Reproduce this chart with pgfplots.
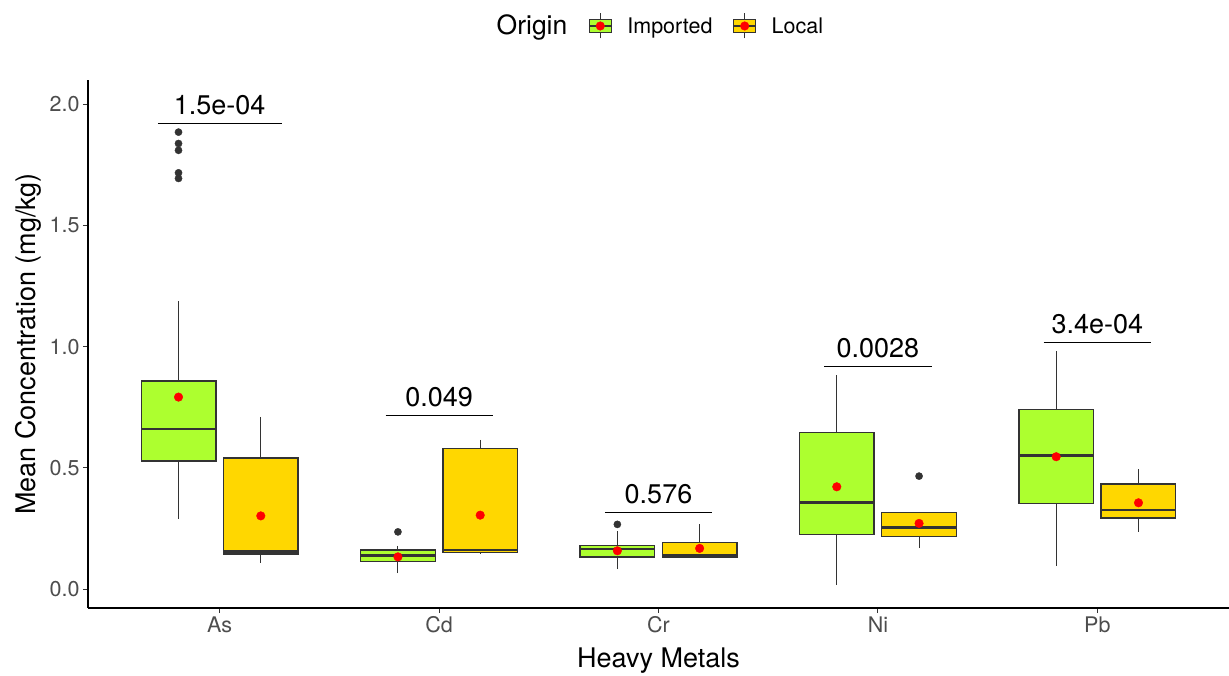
\documentclass[border=0pt]{standalone}
\usepackage{pgfplots}
\pgfplotsset{compat=1.18}
\usepgfplotslibrary{statistics}
\usepackage{fontspec}
\setmainfont{TeX Gyre Heros}
\definecolor{impcol}{HTML}{ADFF2F}
\definecolor{loccol}{HTML}{FFD700}
\definecolor{grey20}{HTML}{333333}
\definecolor{grey30}{HTML}{4D4D4D}
\pgfplotsset{
  bx/.style={boxplot/draw direction=y, boxplot/box extend=0.34, boxplot/whisker extend=0,
    draw=grey20, line width=1.4pt,
    boxplot/every box/.style={line width=1.4pt, draw=grey20},
    boxplot/every median/.style={line width=2.8pt, draw=grey20},
    boxplot/every whisker/.style={line width=1.1pt, draw=grey20},
    forget plot},
  imp/.style={bx, fill=impcol},
  loc/.style={bx, fill=loccol},
}
\begin{document}
\begin{tikzpicture}
\useasboundingbox (-88pt,-67pt) rectangle (1141pt,608pt);
\begin{axis}[
  scale only axis, width=1141pt, height=528pt,
  xmin=0.4, xmax=5.6, ymin=-0.078, ymax=2.1,
  axis lines*=left,
  axis line style={black, line width=1.2pt},
  xtick={1,2,3,4,5}, xticklabels={As,Cd,Cr,Ni,Pb},
  ytick={0,0.5,1,1.5,2}, yticklabels={0.0,0.5,1.0,1.5,2.0},
  tick align=outside, major tick length=5pt,
  tick style={grey20, line width=1.1pt},
  ticklabel style={font=\fontsize{21.5}{24}\selectfont, text=grey30},
  /pgf/number format/assume math mode=true,
  xlabel={Heavy Metals}, ylabel={Mean Concentration (mg/kg)},
  label style={font=\fontsize{27}{32}\selectfont},
  xlabel style={at={(axis description cs:0.5,-0.1136)}, anchor=base},
  ylabel style={at={(axis description cs:-0.04645,0.5)}, anchor=base},
  clip=false,
  legend columns=2,
  legend cell align=left,
  legend style={at={(axis description cs:0.4382,1.1023)}, anchor=west, draw=none, fill=none,
    inner sep=0pt, font=\fontsize{21.5}{24}\selectfont,
    /tikz/every even column/.append style={column sep=18pt}},
]
% Imported (x - 0.1875), Local (x + 0.1875)
\addplot[imp, boxplot prepared={draw position=0.8125, lower whisker=0.289, lower quartile=0.529, median=0.66, upper quartile=0.858, upper whisker=1.188}] coordinates {};
\addplot[loc, boxplot prepared={draw position=1.1875, lower whisker=0.108, lower quartile=0.145, median=0.155, upper quartile=0.541, upper whisker=0.711}] coordinates {};
\addplot[imp, boxplot prepared={draw position=1.8125, lower whisker=0.065, lower quartile=0.113, median=0.137, upper quartile=0.161, upper whisker=0.179}] coordinates {};
\addplot[loc, boxplot prepared={draw position=2.1875, lower whisker=0.144, lower quartile=0.151, median=0.161, upper quartile=0.58, upper whisker=0.617}] coordinates {};
\addplot[imp, boxplot prepared={draw position=2.8125, lower whisker=0.081, lower quartile=0.133, median=0.165, upper quartile=0.179, upper whisker=0.239}] coordinates {};
\addplot[loc, boxplot prepared={draw position=3.1875, lower whisker=0.127, lower quartile=0.131, median=0.14, upper quartile=0.193, upper whisker=0.267}] coordinates {};
\addplot[imp, boxplot prepared={draw position=3.8125, lower whisker=0.016, lower quartile=0.224, median=0.356, upper quartile=0.645, upper whisker=0.882}] coordinates {};
\addplot[loc, boxplot prepared={draw position=4.1875, lower whisker=0.168, lower quartile=0.216, median=0.254, upper quartile=0.315, upper whisker=0.319}] coordinates {};
\addplot[imp, boxplot prepared={draw position=4.8125, lower whisker=0.095, lower quartile=0.352, median=0.55, upper quartile=0.741, upper whisker=0.983}] coordinates {};
\addplot[loc, boxplot prepared={draw position=5.1875, lower whisker=0.236, lower quartile=0.293, median=0.326, upper quartile=0.434, upper whisker=0.494}] coordinates {};
% outliers
\addplot[only marks, mark=*, mark size=3.6pt, mark options={draw=grey20, fill=grey20}, forget plot] coordinates {
 (0.8125,1.885) (0.8125,1.838) (0.8125,1.81) (0.8125,1.717) (0.8125,1.694)
 (1.8125,0.236) (2.8125,0.267) (4.1875,0.466)};
% means
\addplot[only marks, mark=*, mark size=4.3pt, mark options={draw=red, fill=red}, forget plot] coordinates {
 (0.8125,0.792) (1.1875,0.302) (1.8125,0.133) (2.1875,0.305) (2.8125,0.158) (3.1875,0.168)
 (3.8125,0.422) (4.1875,0.271) (4.8125,0.546) (5.1875,0.356)};
% brackets
\addplot[black, line width=0.9pt, forget plot] coordinates {(0.718,1.919) (1.282,1.919)};
\addplot[black, line width=0.9pt, forget plot] coordinates {(1.756,0.718) (2.244,0.718)};
\addplot[black, line width=0.9pt, forget plot] coordinates {(2.756,0.316) (3.244,0.316)};
\addplot[black, line width=0.9pt, forget plot] coordinates {(3.755,0.918) (4.245,0.918)};
\addplot[black, line width=0.9pt, forget plot] coordinates {(4.755,1.017) (5.245,1.017)};
\node[anchor=base, font=\fontsize{27}{32}\selectfont, yshift=9pt] at (axis cs:1,1.919) {1.5e-04};
\node[anchor=base, font=\fontsize{27}{32}\selectfont, yshift=9pt] at (axis cs:2,0.718) {0.049};
\node[anchor=base, font=\fontsize{27}{32}\selectfont, yshift=9pt] at (axis cs:3,0.316) {0.576};
\node[anchor=base, font=\fontsize{27}{32}\selectfont, yshift=9pt] at (axis cs:4,0.918) {0.0028};
\node[anchor=base, font=\fontsize{27}{32}\selectfont, yshift=9pt] at (axis cs:5,1.017) {3.4e-04};
% legend
\node[anchor=base west, inner sep=0pt, font=\fontsize{26.5}{30}\selectfont] at (axis description cs:0.358,1.0871) {Origin};
\addlegendimage{legend image code/.code={
  \path[draw=none, fill=none] (0pt,0pt) -- (36pt,0pt);
  \draw[grey20, line width=1.1pt] (11pt,-12.5pt) -- (11pt,12.5pt);
  \draw[fill=impcol, draw=grey20, line width=1.3pt] (0pt,-6.5pt) rectangle (22pt,6.5pt);
  \draw[grey20, line width=2.2pt] (0pt,0pt) -- (22pt,0pt);
  \fill[red] (11pt,0pt) circle (4.3pt);
}}
\addlegendentry{Imported}
\addlegendimage{legend image code/.code={
  \path[draw=none, fill=none] (0pt,0pt) -- (36pt,0pt);
  \draw[grey20, line width=1.1pt] (11pt,-12.5pt) -- (11pt,12.5pt);
  \draw[fill=loccol, draw=grey20, line width=1.3pt] (0pt,-6.5pt) rectangle (22pt,6.5pt);
  \draw[grey20, line width=2.2pt] (0pt,0pt) -- (22pt,0pt);
  \fill[red] (11pt,0pt) circle (4.3pt);
}}
\addlegendentry{Local}
\end{axis}
\end{tikzpicture}
\end{document}
